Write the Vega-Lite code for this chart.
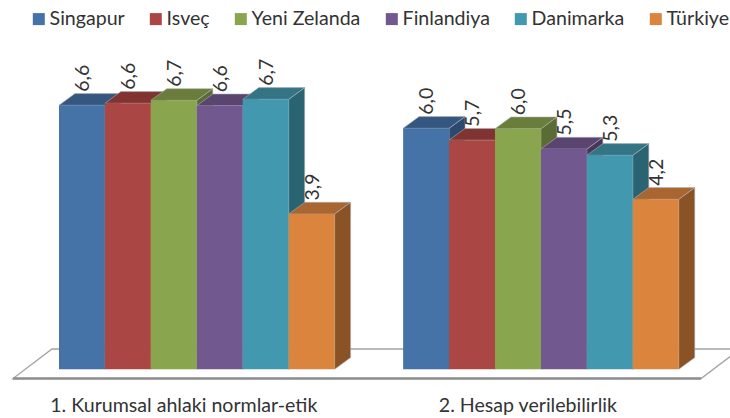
{
  "$schema": "https://vega.github.io/schema/vega-lite/v6.json",
  "width": 730, "height": 418, "padding": 0,
  "autosize": {"type": "none"},
  "background": "white",
  "config": {"view": {"stroke": null}, "font": "Lato"},
  "datasets": {
    "bars": [
      {"grup": 1, "ulke": "Singapur", "deger": 6.567},
      {"grup": 1, "ulke": "Isveç", "deger": 6.617},
      {"grup": 1, "ulke": "Yeni Zelanda", "deger": 6.69},
      {"grup": 1, "ulke": "Finlandiya", "deger": 6.557},
      {"grup": 1, "ulke": "Danimarka", "deger": 6.716},
      {"grup": 1, "ulke": "Türkiye", "deger": 3.863},
      {"grup": 2, "ulke": "Singapur", "deger": 5.995},
      {"grup": 2, "ulke": "Isveç", "deger": 5.70},
      {"grup": 2, "ulke": "Yeni Zelanda", "deger": 5.985},
      {"grup": 2, "ulke": "Finlandiya", "deger": 5.48},
      {"grup": 2, "ulke": "Danimarka", "deger": 5.323},
      {"grup": 2, "ulke": "Türkiye", "deger": 4.229}
    ],
    "zemin": [
      {"x": 16.11, "y": 0.505, "s": 1},
      {"x": 1.132, "y": 0.505, "s": 2},
      {"x": 0.283, "y": -0.229, "s": 3},
      {"x": 15.26, "y": -0.229, "s": 4},
      {"x": 16.11, "y": 0.505, "s": 5}
    ],
    "onKenar": [
      {"x": 0.283, "y": -0.229},
      {"x": 15.26, "y": -0.229}
    ]
  },
  "data": {"name": "bars"},
  "transform": [
    {"calculate": "indexof(['Singapur','Isveç','Yeni Zelanda','Finlandiya','Danimarka','Türkiye'], datum.ulke)", "as": "sira"},
    {"calculate": "(datum.grup == 1 ? 1.284 : 8.775) + datum.sira", "as": "x0"},
    {"calculate": "datum.x0 + 1", "as": "x1"}
  ],
  "layer": [
    {
      "data": {"name": "zemin"},
      "transform": [],
      "mark": {"type": "line", "color": "#a3a3a3", "strokeWidth": 1.3, "clip": true},
      "encoding": {
        "x": {"field": "x", "type": "quantitative", "scale": {"domain": [0, 15.89], "nice": false, "zero": false},
          "axis": {"values": [3.99, 11.48], "labelExpr": "datum.value < 8 ? '1. Kurumsal ahlaki normlar-etik' : '2. Hesap verilebilirlik'", "title": null, "domain": false, "ticks": false, "grid": false, "labelFont": "Lato", "labelFontSize": 19.6, "labelColor": "#333333", "labelBaseline": "alphabetic", "offset": -6.5, "labelPadding": 0, "labelFlush": false, "labelOverlap": false, "labelLimit": 400}},
        "y": {"field": "y", "type": "quantitative", "scale": {"domain": [-1.2114, 9.1866], "nice": false, "zero": false}, "axis": null},
        "order": {"field": "s", "type": "quantitative"}
      }
    },
    {
      "data": {"name": "onKenar"},
      "transform": [],
      "mark": {"type": "line", "color": "#8f8f8f", "strokeWidth": 2.4},
      "encoding": {
        "x": {"field": "x", "type": "quantitative"},
        "y": {"field": "y", "type": "quantitative"}
      }
    },
    {
      "transform": [
        {"calculate": "[0, 1]", "as": "k"},
        {"flatten": ["k"]},
        {"calculate": "datum.x1 + datum.k * 0.348", "as": "px"},
        {"calculate": "datum.deger + datum.k * 0.291", "as": "py"},
        {"calculate": "datum.k * 0.291", "as": "py2"}
      ],
      "mark": {"type": "area", "stroke": "#a9aeb4", "strokeWidth": 0.6, "line": false},
      "encoding": {
        "x": {"field": "px", "type": "quantitative"},
        "y": {"field": "py", "type": "quantitative", "stack": null},
        "y2": {"field": "py2"},
        "detail": {"field": "grup"},
        "color": {"field": "ulke", "type": "nominal", "legend": null,
          "scale": {"domain": ["Singapur","Isveç","Yeni Zelanda","Finlandiya","Danimarka","Türkiye"], "range": ["#2B4A70","#6F2D2B","#5A6C33","#473659","#2A6371","#8A5326"]}}
      }
    },
    {
      "transform": [
        {"calculate": "[0, 1, 2, 3]", "as": "k"},
        {"flatten": ["k"]},
        {"calculate": "datum.x0 + [0, 0.348, 1, 1.348][datum.k]", "as": "px"},
        {"calculate": "datum.deger + [0, 0.291, 0.291, 0.291][datum.k]", "as": "py"},
        {"calculate": "datum.deger + [0, 0, 0, 0.291][datum.k]", "as": "py2"}
      ],
      "mark": {"type": "area", "stroke": "#a9aeb4", "strokeWidth": 0.6},
      "encoding": {
        "x": {"field": "px", "type": "quantitative"},
        "y": {"field": "py", "type": "quantitative", "stack": null},
        "y2": {"field": "py2"},
        "detail": {"field": "grup"},
        "color": {"field": "ulke", "type": "nominal", "legend": null,
          "scale": {"domain": ["Singapur","Isveç","Yeni Zelanda","Finlandiya","Danimarka","Türkiye"], "range": ["#35567F","#803331","#6A7D3B","#5A4470","#337485","#A96630"]}}
      }
    },
    {
      "mark": {"type": "rect"},
      "encoding": {
        "x": {"field": "x0", "type": "quantitative"},
        "x2": {"field": "x1"},
        "y": {"field": "deger", "type": "quantitative"},
        "y2": {"datum": 0},
        "color": {"field": "ulke", "type": "nominal",
          "scale": {"domain": ["Singapur","Isveç","Yeni Zelanda","Finlandiya","Danimarka","Türkiye"], "range": ["#4572A7","#AA4643","#89A54E","#71588F","#4198AF","#DB843D"]},
          "legend": {"orient": "none", "legendX": 29, "legendY": 9, "direction": "horizontal", "columns": 6, "title": null, "padding": 0, "symbolType": "square", "symbolSize": 144, "symbolStrokeWidth": 0, "labelFont": "Lato", "labelFontSize": 19.6, "labelColor": "#333333", "labelOffset": 1, "columnPadding": 21, "labelLimit": 300}}
      }
    },
    {
      "transform": [
        {"calculate": "datum.x0 + 0.53", "as": "lx"},
        {"calculate": "datum.deger + 0.291 + 0.045", "as": "ly"},
        {"calculate": "replace(format(datum.deger, '.1f'), '.', ',')", "as": "etiket"}
      ],
      "mark": {"type": "text", "angle": 270, "align": "left", "baseline": "middle", "font": "Lato", "fontSize": 19.5, "color": "#333333"},
      "encoding": {
        "x": {"field": "lx", "type": "quantitative"},
        "y": {"field": "ly", "type": "quantitative"},
        "text": {"field": "etiket"}
      }
    }
  ],
  "resolve": {"scale": {"color": "independent"}}
}
